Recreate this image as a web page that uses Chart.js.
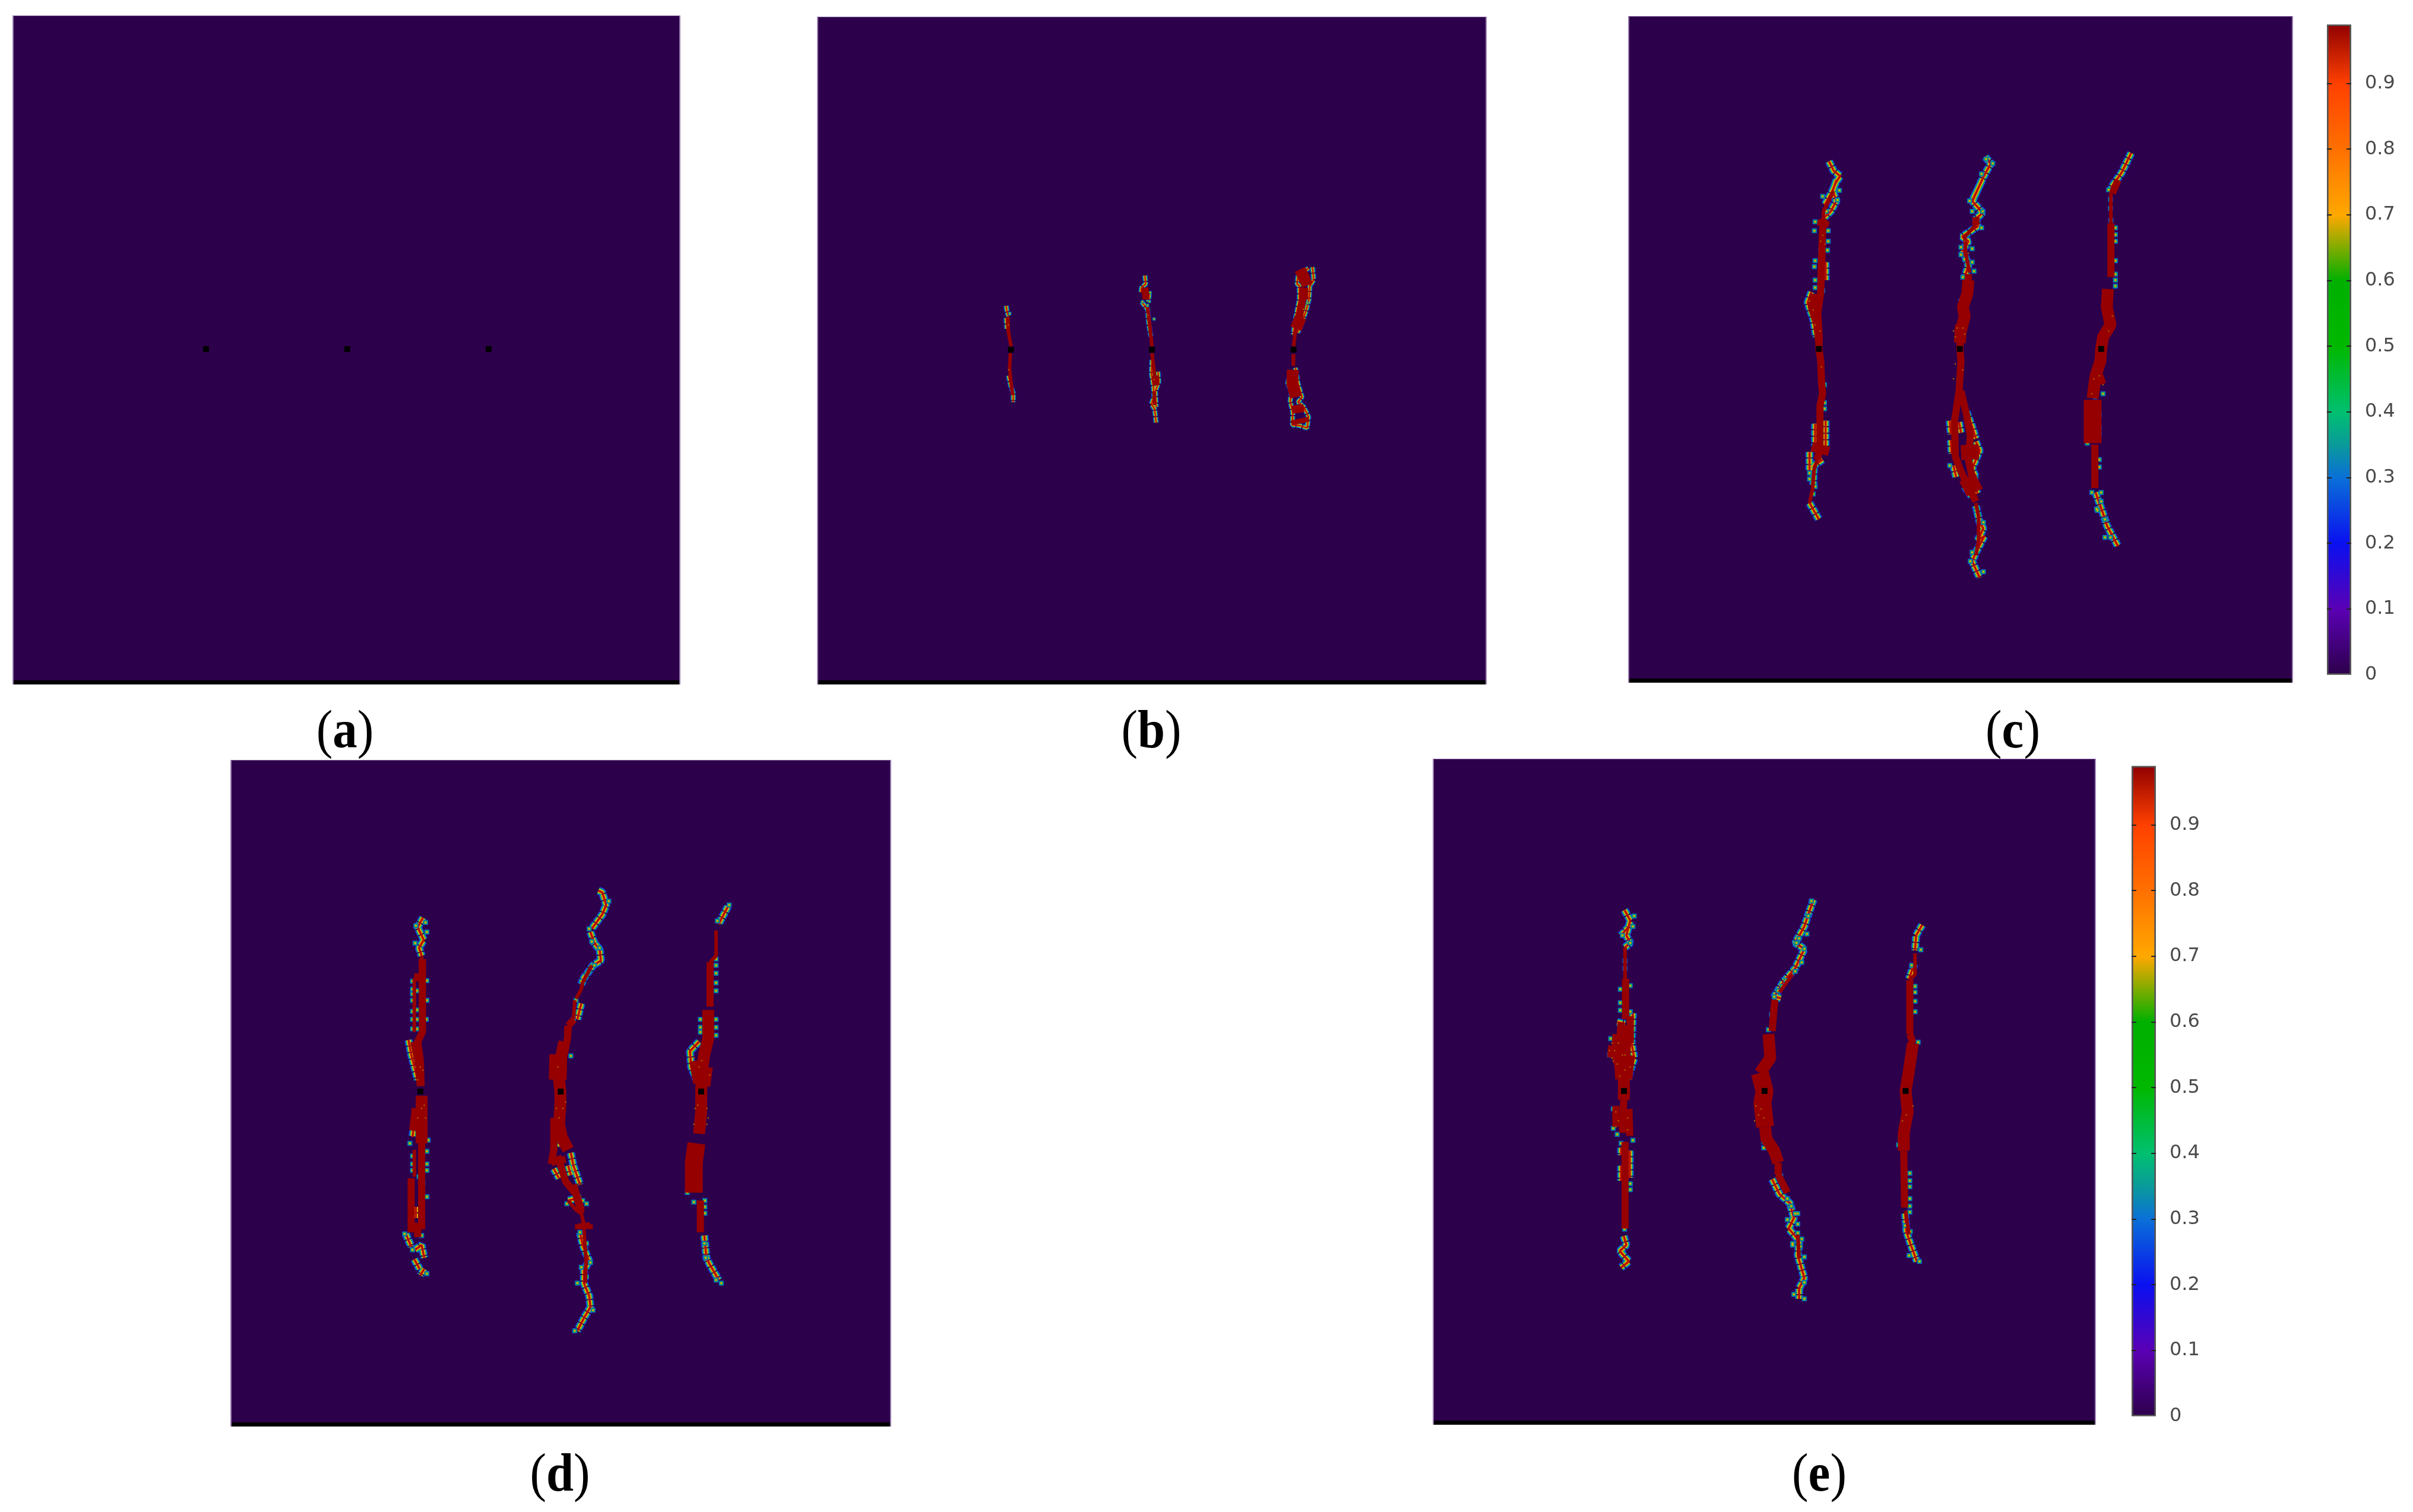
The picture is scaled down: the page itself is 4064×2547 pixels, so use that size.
<!DOCTYPE html>
<html><head><meta charset="utf-8">
<script src="https://cdn.jsdelivr.net/npm/chart.js@4"></script>
<style>
html,body{margin:0;padding:0;background:#fff;width:4064px;height:2547px;overflow:hidden}
canvas{position:absolute;display:block}
.lab{position:absolute;font:92px "Liberation Serif",serif;color:#000;transform:translate(-50%,-50%) scaleX(.9);white-space:nowrap;line-height:1}
.lab b{font-weight:700}
</style></head><body>
<script>
// ---------- tick labels / panel labels ----------
const panelNames = ['a','b','c','d','e'];
const colorbarTicks = [0,0.1,0.2,0.3,0.4,0.5,0.6,0.7,0.8,0.9];
const colorbarStops = [0,0.1,0.2,0.3,0.35,0.4,0.5,0.6,0.7,0.8,0.9,0.99];
const colorbarColors = ['#2d004b','#5a00b4','#0a10f0','#0a70d8','#0a9a9a','#00c070','#00b800','#00b000','#ffa800','#ff7000','#ff4000','#900000'];

// ---------- tip markers (damage seeds) ----------
const aTips = [[344,588],[585,588],[826,588]];
const bTips = [[223,507],[762,507],[1303,507]];
const cTips = [[565,760],[942,760],[1320,760]];
const dTips = [[235,717],[771,717],[1308,717]];
const eTips = [[296,760],[833,760],[1372,760]];

// ---------- panel (b) ----------
const bFringe = [[205,283],[208,310],[214,335],null,[205,345],[208,400],null,[214,640],[222,690],[232,730],[232,775],null,[735,128],[738,170],[722,190],[720,215],null,[752,220],[748,262],null,[722,262],[745,300],[750,380],[758,440],null,[762,560],[760,630],[768,700],[770,745],[760,785],[772,810],[778,880],null,[785,620],[788,670],[775,720],[778,800],null,
[1375,85],[1380,150],[1365,180],[1362,250],[1350,310],[1335,370],[1318,420],null,[1360,90],[1320,130],[1316,170],[1325,180],[1325,250],[1310,350],[1302,430],null,[1310,600],[1320,680],[1335,750],[1320,775],[1342,800],[1360,850],[1355,908],[1325,895],[1298,892],[1300,830],[1290,770],[1295,720],[1280,680],[1290,630],null];
const bCoreS = [[212,340],[213,410],[218,450],[224,490],null,[221,525],[218,600],[222,660],[230,740],null,[745,290],[755,400],[762,490],null,[762,525],[768,590],[772,640],null,[770,720],[772,790],null,[1335,250],[1318,370],[1308,430],[1303,490],null,[1303,530],[1302,590],null];
const bCoreM = [[735,190],[740,250],null,[775,640],[778,690],null,[1340,190],[1338,250],[1325,340],null,[1345,190],[1345,250],null];
const bCoreL = [[1300,610],[1298,680],[1312,750],null,[1318,790],[1322,830],null,[1330,340],[1312,400],null];
const bCoreXL = [[1322,150],[1362,125],null,[1326,860],[1330,885],null];
const bSpecks = [[219,322],[752,260],[770,350],[725,262],[1328,290],[1355,268],[755,215],[745,280],[772,740]];
const bGrain = [[213,380],[215,610],[745,330],[770,660],[1340,300]];

// ---------- panel (c) ----------
const cFringe = [[592,133],[605,165],[622,182],[610,205],[600,235],[588,262],[580,280],null,[612,195],[602,232],[612,265],[597,300],[580,320],null,[545,570],[535,605],[550,660],[558,720],null,[583,470],[583,530],null,[583,1000],[583,1100],null,[555,1010],[555,1085],null,[540,1105],[540,1165],null,[575,1130],[552,1150],[550,1215],null,[540,1275],[565,1330],null,
[1010,118],[1025,140],[1005,185],[985,240],[975,268],null,[1000,200],[975,265],[1003,305],[985,325],[990,350],[948,385],[965,400],[950,430],[965,480],[955,520],null,[915,1000],[918,1045],null,[940,1005],[945,1040],null,[918,1065],[920,1110],null,[925,1150],[932,1188],null,[985,1070],[995,1100],[975,1160],[985,1190],[975,1200],[990,1245],null,[955,1220],[975,1255],null,[960,970],[975,1020],[985,1060],null,[985,1285],[995,1340],[1005,1360],[990,1400],[1008,1385],[985,1440],[975,1470],[995,1525],null,
[1400,105],[1375,170],[1350,215],[1343,238],null,[1305,1240],[1325,1310],[1335,1350],[1365,1420],null];
const cCoreS = [[1346,240],[1346,340],null,[985,1275],[992,1320],[992,1400],[985,1450],null,[985,345],[955,385],[958,440],[968,505],null,[577,340],[577,300],[592,265],[604,232],null,[578,340],[578,470],null,[568,1100],[552,1165],[548,1230],[540,1275],null];
const cCoreM = [[578,325],[575,360],[572,470],[570,570],[562,640],[566,720],[565,760],[570,800],[572,870],[575,910],[568,950],[568,1100],[560,1130],null,[985,320],[985,345],null,[965,510],[962,580],[950,620],[955,650],[945,700],[942,760],[945,800],[940,900],[928,1000],[930,1120],[945,1170],[985,1270],null,[945,900],[960,980],[970,1050],[965,1130],[975,1190],null,[1365,195],[1350,240],null,[1346,340],[1346,520],null,[1303,1080],[1303,1225],null,[550,575],[545,620],[560,680],[565,740],null];
const cCoreL = [[578,330],[575,350],null,[965,530],[962,575],[950,620],[955,650],[945,700],null,[1338,560],[1335,620],[1345,680],[1325,720],[1320,760],[1318,800],[1305,850],[1297,925],null,[945,680],[942,740],null,[1310,850],[1318,880],null];
const cCoreXL = [[572,1080],[566,1110],null,[1297,930],[1297,1075],null,[968,1080],[970,1130],null,[962,1190],[982,1240],null];
const cSpecks = [[555,335],[553,365],[590,365],[590,400],[588,430],[570,430],[575,395],[555,465],[553,485],[555,530],[555,555],[575,565],[575,455],[580,880],[580,960],[580,940],[540,1175],[540,1195],[555,1220],[550,1245],[955,460],[975,470],[980,500],[950,520],[945,600],[1345,260],[1345,290],[1346,330],[1358,355],[1358,378],[1358,400],[1358,465],[1358,510],[1358,530],[1358,550],[1340,228],[1315,980],[1315,1025],[1315,1045],[1315,1130],[1315,1155],[1283,1075],[1295,1240],[1308,1295],[1330,1330],[1320,1270],[1283,940],[1325,910],
[620,230],[615,262],[575,250],[585,300],[1030,140],[1000,175],[1012,125],[968,265],[1003,300],[975,300],[1000,355],[945,420],[975,425],[945,445],[985,1300],[1005,1340],[975,1440],[1005,1505],[970,1470],[985,1190],[915,1150],[1305,920],[1320,1240],[1310,1300],[1345,1390],[1330,1390]];
const cGrain = [[540,600],[550,630],[555,680],[568,700],[572,820],[935,690],[955,710],[930,810],[950,830],[925,860],[1350,650],[1300,860],[1325,880],[1295,910],[575,380],[582,410],[570,400],[965,440],[955,400],[930,720],[925,700],[950,690],[1340,700],[1315,850]];

// ---------- panel (d) ----------
const dFringe = [[245,170],[225,200],[248,240],[230,265],[240,290],null,[190,555],[200,600],[225,680],null,[215,800],[205,860],null,[180,1165],[200,1205],null,[215,1215],[240,1200],[250,1240],null,[212,1245],[232,1275],null,[250,1275],[235,1295],null,[218,1080],[218,1115],null,
[915,85],[930,90],[945,130],[930,160],[890,205],null,[885,215],[900,250],[920,270],[925,305],[895,320],[860,360],[850,380],null,[850,440],[835,490],null,[745,960],[765,990],null,[800,950],[810,980],null,[810,910],[820,950],[845,1010],null,[800,1060],[850,1050],null,[845,1160],[855,1200],[880,1250],[860,1280],[860,1320],[880,1360],[885,1395],[860,1430],[835,1470],null,[765,860],[770,890],null,
[1410,135],[1375,190],null,[1300,560],[1265,590],[1270,640],[1290,680],null,[1320,1170],[1328,1240],[1340,1260],[1375,1310],null];
const dCoreS = [[825,430],[820,490],null,[1365,210],[1365,290],[1342,310],null,[850,395],[830,425],null,[240,290],[240,300],null,[212,360],[212,530],null,[212,900],[212,985],null,[860,1150],[868,1250],[865,1320],null,[890,320],[855,375],[850,395],null,[830,1040],[850,1100],[860,1135],null,[800,1060],[830,1090],[850,1100],null];
const dCoreM = [[242,300],[243,530],[225,560],[235,620],[238,700],null,[225,345],[225,370],null,[210,560],[225,620],[235,700],null,[240,880],[240,1150],null,[200,990],[200,1160],null,[800,510],[798,545],[785,600],null,[745,800],[745,900],[735,945],null,[760,920],[790,1000],[830,1040],[850,1100],null,[1342,310],[1342,450],null,[1305,1060],[1305,1160],null,[735,940],[790,930],null,[820,1010],[850,1090],null,[822,490],[800,510],null,[225,1130],[225,1175],null];
const dCoreL = [[240,730],[240,880],null,[785,560],[770,620],[765,680],[770,717],[770,760],[765,820],[775,860],[800,900],null,[1335,460],[1335,550],[1320,600],[1310,660],[1308,717],[1308,780],[1300,850],null,[860,1130],[862,1145],null,[1285,620],[1300,690],null,[1330,640],[1320,700],null,[225,770],[215,840],null];
const dCoreXL = [[1290,880],[1280,940],[1280,1035],null,[762,600],[760,680],null,[860,1135],[860,1150],null];
const dSpecks = [[260,368],[260,430],[258,490],[205,370],[205,395],[205,410],[205,430],[205,465],[205,490],[205,520],[222,400],[222,460],[222,490],[222,520],[260,905],[260,945],[260,965],[205,920],[205,945],[205,965],[260,1048],[240,1170],[265,870],[195,880],[230,985],[245,1005],[1365,300],[1365,320],[1365,345],[1365,375],[1365,400],[1305,490],[1305,515],[1305,530],[1365,490],[1365,515],[1365,540],[1265,900],[1265,935],[1322,1060],[1322,1080],[1322,1100],[1280,1065],[1255,1035],[900,320],[880,340],[855,1060],[870,1070],[810,605],[745,625],[745,660],
[255,185],[218,195],[260,215],[215,250],[890,245],[920,265],[880,205],[955,118],[870,345],[850,370],[830,430],[820,490],[795,1070],[845,1160],[870,1195],[885,1255],[850,1270],[870,1300],[835,1320],[895,1405],[825,1470],[175,1165],[260,1290],[205,1215],[1365,1310],[1385,1320],[1325,1240],[1320,1195],[1415,130],[1370,180]];
const dGrain = [[215,640],[245,650],[240,770],[225,800],[255,800],[1280,610],[1300,640],[1340,665],[1285,770],[1330,770],[1280,820],[1330,820],[780,770],[755,770],[765,800],[235,640],[225,680],[250,760],[790,750],[760,640],[1310,620],[1335,800],[1295,760]];

// ---------- panel (e) ----------
const eFringe = [[298,155],[320,190],[305,240],[320,265],[300,280],null,[285,240],[310,215],null,[285,950],[285,975],null,[285,1010],[285,1060],null,[318,960],[318,1050],null,[330,500],[325,600],[335,650],[310,720],null,[295,1245],[305,1275],[280,1295],[315,1330],[285,1350],null,[270,530],[300,535],null,
[1020,120],[1000,170],[985,210],[950,265],[985,285],[950,350],[905,395],[870,445],[895,450],null,[862,1055],[890,1105],[930,1135],[945,1185],[925,1220],[965,1260],[960,1310],[985,1385],[965,1420],[965,1455],null,[880,1040],[895,1045],null,
[1435,205],[1412,240],[1408,290],null,[1405,335],[1385,385],null,[1370,1170],[1375,1230],[1390,1270],[1415,1330],null];
const eCoreS = [[300,280],[300,385],null,[1408,300],[1408,370],[1388,390],null,[1372,1160],[1385,1240],null,[960,1240],[965,1320],null,[940,370],[890,430],null];
const eCoreM = [[302,385],[302,520],null,[285,530],[280,590],null,[320,510],[320,600],null,[295,790],[290,900],null,[300,930],[300,1220],null,[872,455],[862,560],null,[885,1040],[920,1100],null,[1388,390],[1388,570],null,[1365,960],[1368,1150],null,[265,570],[262,640],[285,720],null,[265,810],[265,880],null,[315,820],[318,910],null,[885,1000],[885,1040],null,[1388,570],[1400,600],null];
const eCoreL = [[300,540],[300,600],[295,700],[296,760],[295,790],null,[848,570],[855,650],[815,700],null,[1400,600],[1385,690],[1372,760],[1380,830],[1365,900],[1365,960],null,[835,880],[840,920],[870,960],[885,1000],null,[315,640],[305,720],null,[280,640],[285,720],null];
const eCoreXL = [[815,700],[833,760],[825,800],[835,880],null,[270,610],[265,650],null];
const eSpecks = [[300,325],[300,350],[282,420],[282,465],[282,490],[320,408],[320,495],[300,550],[325,565],[245,585],[240,640],[255,820],[255,885],[270,905],[330,925],[285,935],[320,1070],[320,1090],[298,1155],[298,1180],[298,1222],[860,505],[848,555],[830,930],[830,950],[895,1045],[1408,410],[1408,430],[1408,460],[1408,495],[1388,1035],[1388,1060],[1388,1080],[1388,1120],[1388,1145],[1388,1165],[1420,597],[1345,940],[1430,288],[1395,340],[950,1170],[960,1205],[975,1255],[940,1275],[985,1315],
[335,175],[330,210],[290,240],[320,265],[1012,125],[1000,175],[995,235],[965,250],[985,285],[955,265],[975,330],[950,360],[915,390],[900,410],[885,425],[870,445],[920,1120],[935,1145],[960,1170],[920,1190],[960,1235],[940,1270],[970,1280],[985,1400],[945,1440],[985,1455],[1385,1310],[1425,1330],[1370,1210],[1390,1230]];
const eGrain = [[250,600],[260,625],[250,650],[270,670],[290,640],[320,680],[280,710],[300,690],[265,830],[275,860],[310,850],[265,880],[310,890],[800,810],[810,840],[795,860],[830,850],[1375,840],[1400,810],[1360,860],[255,660],[240,625],[300,640],[275,600],[820,820]];

// ---------- geometry: panel box in the page and axis window of each panel ----------
const panelBoxes = {a:[21,26,1125,1127],b:[1376,28,1128,1125],c:[2742,27,1120,1123],d:[388,1280,1113,1123],e:[2413,1278,1117,1122]};
const axisWindows = {a:[0,0,4064,2547],b:[1600,420,700,1020/3],c:[2700,200,1000,800],d:[600,1450,700,850],e:[2600,1450,700,800]};
const axisSpan = {a:[4064,2547],b:[1568,1020],c:[1568,1568],d:[1568,1568],e:[1568,1568]};

const pairs = a => a.map(p => p ? {x:p[0],y:p[1]} : {x:NaN,y:NaN});
const fringeLayers = [['#1a2fe0',14,[9,2]],['#00b078',11,[9,2]],['#e8b000',7,[9,2]],['#b81000',3.5,[]]];
const speckLayers = [['#1450d0',6],['#00b060',4.4],['#f0a000',2.2]];
const coreWidths = {S:6,M:12,L:20,XL:30};
const CORE = '#960000';

function lineSet(data,color,width,dash){return {type:'scatter',data:pairs(data),showLine:true,borderColor:color,borderWidth:width,borderDash:dash||[],pointRadius:0,spanGaps:false,borderJoinStyle:'bevel',borderCapStyle:'butt',tension:0};}
function dotSet(data,color,r){return {type:'scatter',data:pairs(data),showLine:false,pointStyle:'rect',pointRadius:r,pointBackgroundColor:color,pointBorderWidth:0};}

function panel(name,s){
  const box=panelBoxes[name], w=axisWindows[name], sp=axisSpan[name], fs=s.fineMesh?0.65:1;
  const cv=document.createElement('canvas');
  cv.width=box[2];cv.height=box[3];
  cv.style.cssText=`left:${box[0]}px;top:${box[1]}px;width:${box[2]}px;height:${box[3]}px;background:#2d004b`;
  document.body.appendChild(cv);
  const sets=[];
  sets.push(dotSet(s.tips,'#000000',7));
  if(s.grain){sets.push(dotSet(s.grain,'#b06000',1.6));}
  if(s.XL)sets.push(lineSet(s.XL,CORE,coreWidths.XL));
  if(s.L)sets.push(lineSet(s.L,CORE,coreWidths.L));
  if(s.M)sets.push(lineSet(s.M,CORE,coreWidths.M));
  if(s.S)sets.push(lineSet(s.S,CORE,coreWidths.S));
  if(s.specks){speckLayers.slice().reverse().forEach(l=>sets.push(dotSet(s.specks,l[0],l[1]*fs)));}
  if(s.fringe){fringeLayers.slice().reverse().forEach(l=>sets.push(lineSet(s.fringe,l[0],l[1]*fs,l[2])));}
  const xmin=(box[0]-w[0])*sp[0]/w[2], xmax=(box[0]+box[2]-w[0])*sp[0]/w[2];
  const ymin=(box[1]-w[1])*sp[1]/w[3], ymax=(box[1]+box[3]-w[1])*sp[1]/w[3];
  new Chart(cv,{type:'scatter',data:{datasets:sets},options:{
    responsive:false,animation:false,devicePixelRatio:1,
    layout:{padding:0},
    plugins:{legend:{display:false},tooltip:{enabled:false}},
    scales:{x:{type:'linear',display:false,min:xmin,max:xmax},y:{type:'linear',display:false,reverse:true,min:ymin,max:ymax}}
  },plugins:[{id:'frame',afterDraw(c){const g=c.ctx;g.save();g.fillStyle='#000';g.fillRect(0,c.height-7,c.width,7);g.fillStyle='#9a7fb0';g.fillRect(0,0,2,c.height);g.fillRect(c.width-2,0,2,c.height);g.fillRect(0,0,c.width,1);g.restore();}}]});
}

function colorbar(left,top,barW,barH){
  const cv=document.createElement('canvas');
  const extra=110;
  cv.width=barW+extra;cv.height=barH+89;
  cv.style.cssText=`left:${left}px;top:${top-43}px;width:${barW+extra}px;height:${barH+89}px`;
  document.body.appendChild(cv);
  new Chart(cv,{type:'bar',data:{labels:['c'],datasets:[{data:[0.99],
    backgroundColor(ctx){const a=ctx.chart.chartArea;if(!a)return '#000';const y=ctx.chart.scales.y;
      const g=ctx.chart.ctx.createLinearGradient(0,y.getPixelForValue(0),0,y.getPixelForValue(0.99));
      colorbarStops.forEach((v,i)=>g.addColorStop(v/0.99,colorbarColors[i]));return g;},
    borderColor:'#555',borderWidth:3,borderSkipped:false,barPercentage:1,categoryPercentage:1}]},
   options:{responsive:false,animation:false,devicePixelRatio:1,
    layout:{autoPadding:false,padding:{top:10,bottom:40,left:0,right:0}},
    plugins:{legend:{display:false},tooltip:{enabled:false}},
    scales:{x:{display:false},
     y:{position:'right',min:0,max:0.99,afterFit(s){s.width=extra;},
        afterBuildTicks(s){s.ticks=colorbarTicks.map(v=>({value:v}));},
        grid:{display:false,drawTicks:false},border:{display:false},
        ticks:{padding:23,color:'#4a4a4a',font:{family:'DejaVu Sans',size:32},autoSkip:false,callback:v=>String(v)}}}
   },plugins:[{id:'inTicks',afterDatasetsDraw(c){const g=c.ctx,y=c.scales.y,a=c.chartArea;g.save();g.fillStyle='#222';
     colorbarTicks.slice(1).forEach(v=>{const p=Math.round(y.getPixelForValue(v));g.fillRect(a.left,p-1,8,2);g.fillRect(a.right-8,p-1,8,2);});g.restore();}}]});
}

panel('a',{tips:aTips});
panel('b',{tips:bTips,fringe:bFringe,S:bCoreS,M:bCoreM,L:bCoreL,XL:bCoreXL,specks:bSpecks,grain:bGrain,fineMesh:true});
panel('c',{tips:cTips,fringe:cFringe,S:cCoreS,M:cCoreM,L:cCoreL,XL:cCoreXL,specks:cSpecks,grain:cGrain});
panel('d',{tips:dTips,fringe:dFringe,S:dCoreS,M:dCoreM,L:dCoreL,XL:dCoreXL,specks:dSpecks,grain:dGrain});
panel('e',{tips:eTips,fringe:eFringe,S:eCoreS,M:eCoreM,L:eCoreL,XL:eCoreXL,specks:eSpecks,grain:eGrain});
colorbar(3919,42,41,1091);
colorbar(3590,1291,41,1091);

const labelPos={a:[581,1228],b:[1939,1228],c:[3390,1228],d:[943,2480],e:[3064,2480]};
panelNames.forEach(n=>{const d=document.createElement('div');d.className='lab';d.innerHTML=`(<b>${n}</b>)`;d.style.left=labelPos[n][0]+'px';d.style.top=labelPos[n][1]+'px';document.body.appendChild(d);});
</script>
</body></html>
